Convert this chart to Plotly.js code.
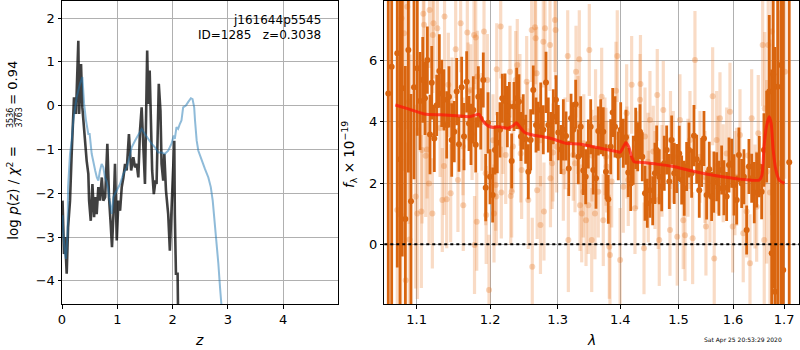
<!DOCTYPE html>
<html>
<head>
<meta charset="utf-8">
<script src="https://cdn.plot.ly/plotly-3.0.1.min.js"></script>
<style>html,body{margin:0;padding:0;background:#fff;}#plot{width:800px;height:350px;}</style>
</head>
<body>
<div id="plot"></div>
<script>
// ---------- Left panel: log p(z) ----------
const zDark = [0.01,0.024,0.036,0.055,0.085,0.11,0.145,0.175,0.217,0.253,0.295,0.31,0.344,0.368,0.40,0.446,0.476,0.49,0.52,0.55,0.58,0.60,0.627,0.657,0.687,0.72,0.747,0.78,0.82,0.85,0.88,0.904,0.93,0.958,0.99,1.02,1.05,1.08,1.11,1.14,1.17,1.21,1.25,1.29,1.32,1.35,1.38,1.41,1.44,1.47,1.50,1.54,1.56,1.585,1.61,1.63,1.66,1.69,1.71,1.75,1.78,1.80,1.83,1.85,1.88,1.90,1.92,1.95,1.98,2.01,2.03,2.04,2.06,2.09,2.10,2.12];
const lpDark = [-2.17,-2.63,-3.39,-3.0,-3.84,-2.78,-2.17,-1.1,0.19,-0.19,1.48,-0.19,0.95,-0.04,-0.57,-1.26,-1.56,-2.17,-2.63,-1.79,-2.55,-2.09,-2.48,-1.86,-2.17,-1.64,-2.17,-2.09,-0.87,-2.09,-2.7,-3.23,-2.48,-1.33,-3.08,-2.17,-2.4,-1.86,-1.64,-1.33,-1.48,-0.65,-1.48,-1.18,-1.41,-1.33,-1.64,-0.57,-0.04,-0.95,-1.79,1.26,0.04,0.8,-0.57,-1.48,-2.02,-1.71,-1.79,0.5,-0.12,-1.33,-1.71,-1.1,-1.94,-2.32,-2.48,-3.31,-2.24,-1.26,-0.8,-2.48,-3.84,-3.84,-4.57,-7.0];
const zBlue = [0.01,0.024,0.054,0.07,0.1,0.11,0.145,0.175,0.205,0.265,0.325,0.368,0.40,0.434,0.476,0.50,0.537,0.567,0.60,0.63,0.657,0.687,0.717,0.747,0.777,0.80,0.83,0.86,0.898,0.928,0.988,1.05,1.108,1.17,1.22,1.26,1.32,1.38,1.44,1.50,1.56,1.62,1.68,1.74,1.80,1.86,1.92,1.98,2.02,2.04,2.07,2.10,2.13,2.16,2.19,2.24,2.28,2.33,2.36,2.39,2.405,2.435,2.465,2.525,2.586,2.646,2.69,2.725,2.76,2.797,2.827,2.857,2.888,2.93];
const lpBlue = [-2.5,-2.93,-3.39,-3.5,-2.93,-1.86,-1.1,-0.8,-0.34,0.19,0.5,0.65,0.04,-0.34,-0.65,-0.65,-1.1,-1.33,-1.48,-1.64,-1.71,-1.48,-1.33,-1.41,-1.64,-1.71,-1.86,-2.17,-2.47,-2.09,-1.94,-1.79,-1.56,-1.41,-1.18,-0.95,-0.8,-0.65,-0.53,-0.65,-0.76,-0.87,-0.95,-1.07,-1.07,-1.1,-1.03,-0.87,-0.68,-0.76,-0.49,-0.53,-0.42,-0.34,-0.04,0.0,0.08,0.17,0.15,-0.04,-0.34,-0.8,-1.03,-1.26,-1.45,-1.64,-1.86,-2.17,-2.63,-3.08,-3.61,-4.15,-4.53,-5.3];
const zTicks = [0,1,2,3,4];
const lpTicks = [-4,-3,-2,-1,0,1,2];

// ---------- Right panel: spectrum ----------
const lamDark = [1.0636,1.0679,1.0750,1.0785,1.0814,1.0853,1.0892,1.0926,1.0965,1.1008,1.1044,1.1079,1.1109,1.1140,1.1175,1.1198,1.1232,1.1264,1.1299,1.1331,1.1362,1.1398,1.1429,1.1466,1.1501,1.1534,1.1565,1.1602,1.1634,1.1671,1.1703,1.1731,1.1763,1.1797,1.1833,1.1867,1.1903,1.1937,1.1970,1.1998,1.2036,1.2069,1.2102,1.2141,1.2174,1.2213,1.2247,1.2276,1.2310,1.2344,1.2383,1.2417,1.2446,1.2480,1.2516,1.2555,1.2590,1.2629,1.2670,1.2704,1.2741,1.2780,1.2821,1.2856,1.2892,1.2932,1.2973,1.3009,1.3051,1.3087,1.3129,1.3171,1.3207,1.3242,1.3280,1.3321,1.3359,1.3400,1.3438,1.3480,1.3518,1.3559,1.3603,1.3640,1.3679,1.3721,1.3765,1.3803,1.3842,1.3875,1.3913,1.3967,1.4007,1.4050,1.4095,1.4133,1.4174,1.4217,1.4258,1.4292,1.4331,1.4370,1.4416,1.4455,1.4501,1.4548,1.4587,1.4617,1.4662,1.4704,1.4749,1.4791,1.4837,1.4879,1.4924,1.4967,1.5013,1.5056,1.5102,1.5145,1.5187,1.5235,1.5277,1.5326,1.5373,1.5417,1.5459,1.5508,1.5556,1.5600,1.5642,1.5693,1.5736,1.5786,1.5829,1.5880,1.5924,1.5975,1.6018,1.6070,1.6113,1.6165,1.6208,1.6261,1.6305,1.6358,1.6408,1.6455,1.6506,1.6552,1.6597,1.6651,1.6702,1.6750,1.6781,1.6815,1.6869,1.6935,1.6981,1.7102];
const fluxDark = [4.93,5.80,6.24,2.78,5.10,0.83,6.35,1.41,5.13,5.75,4.68,5.37,4.77,6.02,3.59,5.28,3.46,4.54,5.66,4.93,4.72,3.90,4.82,3.41,3.68,4.99,3.27,5.13,3.52,5.31,3.95,3.59,4.39,3.25,4.82,4.10,5.37,1.85,3.97,2.21,1.61,3.08,3.32,3.74,4.77,4.68,4.17,4.50,2.72,4.50,4.77,4.66,3.52,4.00,3.43,2.37,3.41,5.04,3.90,3.86,4.39,3.74,5.29,3.90,3.52,4.17,4.72,3.65,3.10,3.74,3.54,2.48,4.12,3.74,4.58,2.86,3.84,2.41,2.21,3.28,3.84,2.43,2.16,3.70,3.84,3.68,2.37,1.47,3.19,4.31,3.84,2.89,3.74,3.30,3.50,2.35,1.99,2.75,3.46,3.19,3.68,2.86,1.67,1.34,1.77,1.42,2.32,3.08,2.21,1.88,2.65,3.08,2.05,3.41,2.32,2.48,2.97,2.10,1.83,2.54,3.08,2.32,3.55,2.78,1.77,2.67,3.46,1.61,2.45,1.56,2.03,2.21,1.83,2.43,1.85,1.56,2.59,2.65,1.94,1.45,2.92,1.99,2.21,0.47,2.54,2.16,1.69,2.10,2.54,1.72,3.08,3.52,4.99,-0.29,5.56,-1.55,5.15,5.86,-0.84,2.68];
const errDark = [9,8,7,6,5.5,5,4,3.5,3,2.2,1.6,1.4,1.2,1.1,1.3,1.2,1.1,1.0,1.2,1.1,1.0,1.1,1.0,1.2,1.0,1.1,0.9,1.0,1.1,1.0,0.9,1.0,1.1,0.9,1.0,1.0,0.9,1.1,1.0,0.9,0.9,0.8,1.0,0.9,0.8,0.9,1.0,0.8,0.9,0.8,1.0,0.9,0.8,0.9,0.8,0.9,1.0,0.8,0.9,0.8,0.9,0.8,1.0,0.9,0.8,0.9,0.8,0.9,0.8,1.0,0.8,0.9,0.8,0.9,0.8,0.9,1.0,0.8,0.9,0.8,0.9,0.8,1.0,0.8,0.9,0.8,0.9,0.8,0.9,0.8,1.0,0.8,0.9,0.8,0.9,0.8,0.9,0.8,1.0,0.8,0.9,0.8,0.9,0.8,0.9,0.8,1.0,0.8,0.9,0.8,0.9,0.8,0.9,0.8,1.0,0.8,0.9,0.8,0.9,0.8,0.9,0.8,1.0,0.8,0.9,0.8,0.9,0.8,0.9,0.8,1.0,0.8,0.9,0.8,0.9,0.8,0.9,0.8,1.0,0.8,0.9,0.8,0.9,0.8,0.9,0.8,1.0,0.9,1.0,0.9,1.2,1.5,2.5,6,7,8,8,9,10,12];
const lamLight = [1.0750,1.0794,1.0804,1.0836,1.0858,1.0878,1.0901,1.0907,1.0987,1.1008,1.1061,1.1070,1.1087,1.1096,1.1118,1.1162,1.1169,1.1206,1.1212,1.1221,1.1272,1.1339,1.1362,1.1369,1.1398,1.1420,1.1452,1.1520,1.1551,1.1588,1.1624,1.1680,1.1690,1.1727,1.1773,1.1797,1.1811,1.1819,1.1780,1.1913,1.1937,1.1944,1.1960,1.1984,1.2055,1.2079,1.2088,1.2094,1.2151,1.2160,1.2223,1.2286,1.2296,1.2310,1.2369,1.2392,1.2442,1.2431,1.2456,1.2531,1.2555,1.2605,1.2614,1.2655,1.2664,1.2680,1.2687,1.2737,1.2780,1.2790,1.2806,1.2882,1.2889,1.2914,1.2958,1.2967,1.2984,1.3087,1.3155,1.3165,1.3242,1.3269,1.3285,1.3337,1.3348,1.3375,1.3400,1.3408,1.3443,1.3480,1.3496,1.3534,1.3586,1.3596,1.3640,1.3695,1.3721,1.3765,1.3776,1.3819,1.3830,1.3858,1.3929,1.3950,1.3997,1.4050,1.4106,1.4133,1.4190,1.4246,1.4275,1.4331,1.4339,1.4399,1.4416,1.4472,1.4501,1.4558,1.4587,1.4627,1.4644,1.4662,1.4732,1.4849,1.4858,1.4907,1.4977,1.5025,1.5084,1.5115,1.5205,1.5253,1.5295,1.5386,1.5495,1.5569,1.5619,1.5648,1.5693,1.5755,1.5816,1.5880,1.5943,1.5994,1.6070,1.6133,1.6195,1.6261,1.6325,1.6358,1.6422,1.6455,1.6486,1.6572,1.6603,1.6613,1.6651,1.6682,1.6716,1.6750,1.6915,1.7015,1.0785,1.0914,1.1136,1.1309,1.1470,1.1620,1.1746,1.1885,1.2041,1.2184,1.2329,1.2541,1.2737,1.2927,1.3113,1.3316,1.3538,1.3748,1.4111,1.4467,1.4709,1.5169,1.5477,1.5717,1.6036,1.6284,1.6519];
const fluxLight = [1.12,0.96,7.39,6.90,-1.17,7.76,4.66,0.16,1.56,1.01,1.07,3.08,7.53,7.17,2.89,1.99,7.66,1.01,6.84,7.22,7.06,1.45,2.56,7.44,1.47,5.21,1.67,6.37,2.10,7.22,1.28,6.92,4.99,5.04,6.84,6.76,0.74,5.48,-0.02,6.95,2.32,0.96,5.37,-1.49,1.01,1.94,1.56,5.72,7.12,1.69,2.92,5.64,1.58,1.72,5.37,5.86,2.97,4.72,2.43,5.31,1.45,7.00,-0.73,7.09,6.73,5.59,1.77,0.63,6.62,1.07,7.06,6.51,2.16,2.65,7.33,7.00,3.19,2.37,6.15,0.14,2.92,2.65,5.64,6.05,1.28,1.01,1.72,3.30,0.79,1.28,6.35,0.14,1.01,4.12,1.72,4.82,0.79,2.86,2.54,-0.08,-0.35,2.05,5.02,6.15,-0.51,1.88,4.28,2.10,5.21,1.18,2.75,4.72,5.24,-0.13,3.52,1.56,4.06,3.03,2.10,4.88,1.45,0.14,4.39,0.47,3.41,2.86,0.25,4.06,0.79,0.30,3.41,0.20,6.02,2.86,0.58,1.56,4.84,-0.46,3.41,4.12,2.32,2.97,4.33,0.58,2.21,3.57,0.36,1.07,-0.62,4.12,1.56,1.23,3.63,6.51,0.14,4.44,2.37,6.51,1.69,6.95,2.65,5.64,3.9,4.4,3.1,3.8,4.6,3.2,3.6,4.0,3.4,3.9,3.2,3.7,3.4,3.0,3.3,3.9,2.9,3.2,3.0,2.7,2.4,2.5,2.2,2.6,2.0,2.9,2.3];
const errLight = [5,5,5,4.5,4.5,4,4,3.5,3,2.8,2.5,2.4,2.2,2.2,2.0,2.0,1.9,1.8,1.9,1.8,1.8,1.7,1.6,1.7,1.6,1.7,1.6,1.6,1.7,1.6,1.5,1.7,1.6,1.5,1.6,1.7,1.6,1.5,1.6,1.6,1.7,1.6,1.5,1.8,1.6,1.5,1.6,1.5,1.7,1.5,1.6,1.5,1.6,1.5,1.6,1.5,1.6,1.5,1.6,1.5,1.6,1.7,1.6,1.6,1.5,1.5,1.6,1.6,1.5,1.6,1.7,1.5,1.6,1.5,1.7,1.6,1.5,1.6,1.5,1.7,1.5,1.6,1.5,1.6,1.5,1.6,1.5,1.6,1.5,1.6,1.5,1.7,1.5,1.6,1.5,1.6,1.5,1.6,1.5,1.7,1.6,1.5,1.6,1.5,1.7,1.5,1.6,1.5,1.6,1.5,1.6,1.5,1.6,1.5,1.6,1.5,1.6,1.5,1.6,1.5,1.6,1.5,1.6,1.5,1.6,1.5,1.6,1.5,1.6,1.5,1.6,1.5,1.6,1.5,1.6,1.5,1.6,1.5,1.6,1.5,1.6,1.5,1.6,1.5,1.6,1.5,1.6,1.5,1.6,1.6,1.7,1.8,1.9,2.0,2.2,2.5,3,3.5,5,6,5,3.5,2,1.8,1.6,1.6,1.5,1.6,1.5,1.6,1.5,1.6,1.5,1.6,1.5,1.6,1.5,1.6,1.5,1.6,1.5,1.6,1.5,1.6,1.5,1.6,1.7];
const lamModel = [1.0725,1.0870,1.1100,1.1318,1.1530,1.1714,1.1800,1.1845,1.1890,1.1970,1.2045,1.2130,1.2250,1.2332,1.2380,1.2428,1.2502,1.2620,1.2821,1.2973,1.3128,1.3340,1.3547,1.3776,1.3942,1.3997,1.4040,1.4094,1.4140,1.4190,1.4230,1.4329,1.4619,1.4907,1.5206,1.5500,1.5805,1.6122,1.6315,1.6508,1.6558,1.6600,1.6645,1.6700,1.6740,1.6780,1.6834,1.6900,1.7006];
const fluxModel = [4.55,4.44,4.26,4.23,4.20,4.17,4.23,4.25,4.06,3.87,3.82,3.84,3.79,3.87,3.97,3.84,3.65,3.57,3.50,3.41,3.30,3.28,3.19,3.10,3.03,3.01,3.14,3.32,3.19,2.86,2.70,2.68,2.62,2.54,2.41,2.30,2.21,2.13,2.10,2.10,2.26,3.19,3.84,4.17,3.95,3.08,2.43,2.10,1.99];
const lamTicks = [1.1,1.2,1.3,1.4,1.5,1.6,1.7];
const fluxTicks = [0,2,4,6];

const W = 800, H = 350;
const px = x => x / W, py = y => (H - y) / H;
const gridC = '#b0b0b0';
const tickFont = {family: 'DejaVu Sans', size: 13, color: 'black'};
const axBase = {
  showgrid: true, gridcolor: gridC, gridwidth: 1, zeroline: false,
  showline: true, mirror: true, linecolor: 'black', linewidth: 1,
  ticks: 'outside', ticklen: 3.5, tickcolor: 'black', tickwidth: 1,
  tickfont: tickFont, fixedrange: true
};

const dark = '#d9650f';
const traces = [
  {x: zDark, y: lpDark, xaxis: 'x', yaxis: 'y', mode: 'lines', line: {color: 'rgba(0,0,0,0.75)', width: 2.6}, hoverinfo: 'skip'},
  {x: zBlue, y: lpBlue, xaxis: 'x', yaxis: 'y', mode: 'lines', line: {color: 'rgba(31,119,180,0.5)', width: 2}, hoverinfo: 'skip'},
  {x: lamLight, y: fluxLight, xaxis: 'x2', yaxis: 'y2', mode: 'markers',
   marker: {color: 'rgba(232,125,45,0.33)', size: 6},
   error_y: {type: 'data', array: errLight, visible: true, color: 'rgba(232,125,45,0.28)', thickness: 3.2, width: 0}, hoverinfo: 'skip'},
  {x: lamDark, y: fluxDark, xaxis: 'x2', yaxis: 'y2', mode: 'markers',
   marker: {color: dark, size: 6},
   error_y: {type: 'data', array: errDark, visible: true, color: dark, thickness: 2.8, width: 0}, hoverinfo: 'skip'},
  {x: lamModel, y: fluxModel, xaxis: 'x2', yaxis: 'y2', mode: 'lines', line: {color: 'rgba(255,20,10,0.72)', width: 3, shape: 'spline', smoothing: 0.6}, hoverinfo: 'skip'}
];

const yDom = [py(304), py(1)];
const layout = {
  width: W, height: H, margin: {l: 0, r: 0, t: 0, b: 0},
  paper_bgcolor: 'white', plot_bgcolor: 'white', showlegend: false,
  font: {family: 'DejaVu Sans', color: 'black'},
  xaxis: Object.assign({}, axBase, {domain: [px(62), px(338)], range: [0, 4.99], tickvals: zTicks, anchor: 'y'}),
  yaxis: Object.assign({}, axBase, {domain: yDom, range: [-4.53, 2.39], tickvals: lpTicks, anchor: 'x'}),
  xaxis2: Object.assign({}, axBase, {domain: [px(384.3), px(799)], type: 'log', range: [Math.log10(1.0586), Math.log10(1.7301)],
    tickvals: lamTicks, ticktext: lamTicks.map(v => v.toFixed(1)), anchor: 'y2'}),
  yaxis2: Object.assign({}, axBase, {domain: yDom, range: [-1.95, 7.95], tickvals: fluxTicks, anchor: 'x2'}),
  shapes: [
    {type: 'line', xref: 'x2 domain', yref: 'y2', x0: 0, x1: 1, y0: 0, y1: 0, line: {color: 'black', width: 2, dash: 'dot'}, layer: 'above'},
    {type: 'line', xref: 'paper', yref: 'paper', x0: px(14.3), x1: px(14.3), y0: py(111.5), y1: py(124.5), line: {color: 'black', width: 0.8}}
  ],
  annotations: [
    {xref: 'paper', yref: 'paper', x: px(323), y: py(20), xanchor: 'right', yanchor: 'middle', showarrow: false,
     text: 'j161644p5545', font: {family: 'DejaVu Sans', size: 12, color: 'black'}},
    {xref: 'paper', yref: 'paper', x: px(323), y: py(35), xanchor: 'right', yanchor: 'middle', showarrow: false,
     text: 'ID=1285   z=0.3038', font: {family: 'DejaVu Sans', size: 12, color: 'black'}},
    {xref: 'paper', yref: 'paper', x: px(199), y: py(340), xanchor: 'center', yanchor: 'middle', showarrow: false,
     text: '<i>z</i>', font: {family: 'DejaVu Sans', size: 14, color: 'black'}},
    {xref: 'paper', yref: 'paper', x: px(591), y: py(340), xanchor: 'center', yanchor: 'middle', showarrow: false,
     text: '<i>λ</i>', font: {family: 'DejaVu Sans', size: 14, color: 'black'}},
    {xref: 'paper', yref: 'paper', x: px(12.7), y: py(193), xanchor: 'center', yanchor: 'middle', showarrow: false, textangle: -90,
     text: 'log <i>p</i>(<i>z</i>) / <i>χ</i><sup>2</sup> =', font: {family: 'DejaVu Sans', size: 13.5, color: 'black'}},
    {xref: 'paper', yref: 'paper', x: px(10), y: py(118), xanchor: 'center', yanchor: 'middle', showarrow: false, textangle: -90,
     text: '3536', font: {family: 'DejaVu Sans', size: 8, color: 'black'}},
    {xref: 'paper', yref: 'paper', x: px(18.5), y: py(118), xanchor: 'center', yanchor: 'middle', showarrow: false, textangle: -90,
     text: '3763', font: {family: 'DejaVu Sans', size: 8, color: 'black'}},
    {xref: 'paper', yref: 'paper', x: px(12.7), y: py(83), xanchor: 'center', yanchor: 'middle', showarrow: false, textangle: -90,
     text: '= 0.94', font: {family: 'DejaVu Sans', size: 13, color: 'black'}},
    {xref: 'paper', yref: 'paper', x: px(349), y: py(155), xanchor: 'center', yanchor: 'middle', showarrow: false, textangle: -90,
     text: '<i>f</i><sub>λ</sub> × 10<sup>−19</sup>', font: {family: 'DejaVu Sans', size: 13.5, color: 'black'}},
    {xref: 'paper', yref: 'paper', x: px(743), y: py(340), xanchor: 'center', yanchor: 'middle', showarrow: false,
     text: 'Sat Apr 25 20:53:29 2020', font: {family: 'DejaVu Sans', size: 6, color: 'black'}}
  ]
};

Plotly.newPlot('plot', traces, layout, {displayModeBar: false, staticPlot: true});
</script>
</body>
</html>
